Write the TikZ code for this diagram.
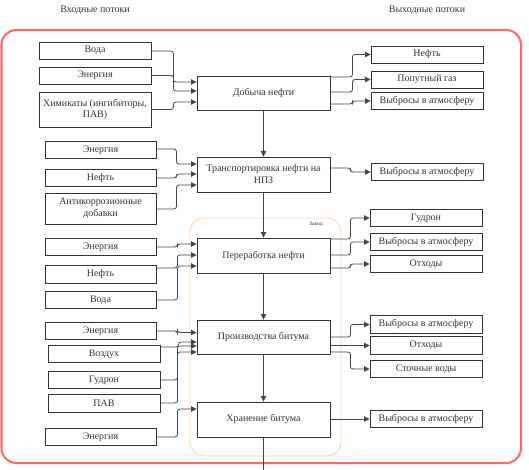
\documentclass[tikz,border=0pt]{standalone}
\usepackage{fontspec}
\setmainfont{Liberation Serif}
\newfontfamily\boxfont{Liberation Serif}
\usepackage{tikz}
\usetikzlibrary{arrows.meta,calc}

\definecolor{boxline}{HTML}{333333}
\definecolor{flowline}{HTML}{454545}
\definecolor{outerred}{HTML}{FF6666}
\definecolor{plantorange}{HTML}{FFD2AE}

\tikzset{
    proc/.style={draw=boxline, line width=0.9bp, minimum width=133bp, minimum height=35bp,
        inner sep=1bp, align=center, text=boxline, font=\boxfont\fontsize{10}{12}\selectfont},
    inbox/.style={draw=boxline, line width=0.9bp, minimum width=112bp, minimum height=17.5bp,
        inner sep=1bp, align=center, text=boxline, font=\boxfont\fontsize{10}{12}\selectfont},
    outbox/.style={inbox},
    flow/.style={draw=flowline, line width=0.8bp, rounded corners=2.5bp,
        -{Triangle[length=5.5bp,width=5.5bp]}},
    plain/.style={draw=flowline, line width=0.8bp},
    header/.style={text=boxline, font=\boxfont\fontsize{10}{11}\selectfont}
}

\begin{document}
\begin{tikzpicture}[x=1bp, y=-1bp]
        \useasboundingbox (0,0) rectangle (529,470);
        % Frames
        \draw[outerred, line width=2bp, rounded corners=15bp] (1.5,30) rectangle (521,463);
        \draw[plantorange, line width=0.9bp, rounded corners=14bp] (190,218) rectangle (341,456);
        \node[text=boxline, font=\boxfont\fontsize{5.5}{6}\selectfont] (zavod) at (316,224) {Завод};

        % Headers
        \node[header] (inhead) at (95,10) {Входные потоки};
        \node[header] (outhead) at (427,10) {Выходные потоки};

        % Main process chain
        \node[proc, minimum height=34bp] (dob) at (263.5,93) {Добыча нефти};
        \node[proc] (trans) at (263.5,174.5) {Транспортировка нефти на\\НПЗ};
        \node[proc] (pere) at (263.5,255.5) {Переработка нефти};
        \node[proc, minimum height=34bp] (proiz) at (263.5,337) {Производства битума};
        \node[proc] (hran) at (263.5,419.5) {Хранение битума};
        \coordinate (exit) at (263.5,472);

        \draw[flow] (dob) -- (trans);
        \draw[flow] (trans) -- (pere);
        \draw[flow] (pere) -- (proiz);
        \draw[flow] (proiz) -- (hran);
        \draw[plain] (hran) -- (exit);

        % Input flows
        \node[inbox, minimum height=17bp] (in11) at (95,50.5) {Вода};
        \node[inbox, minimum height=17bp] (in12) at (95,75.5) {Энергия};
        \node[inbox, minimum height=35bp] (in13) at (95,109.5) {Химикаты (ингибиторы,\\ПАВ)};

        \node[inbox, minimum width=111bp] (in21) at (100.5,150) {Энергия};
        \node[inbox, minimum width=111bp] (in22) at (100.5,178) {Нефть};
        \node[inbox, minimum width=111bp, minimum height=31bp] (in23) at (100.5,208.5) {Антикоррозионные\\добавки};

        \node[inbox, minimum width=111bp] (in31) at (100.5,247) {Энергия};
        \node[inbox, minimum width=111bp] (in32) at (100.5,274.5) {Нефть};
        \node[inbox, minimum width=111bp] (in33) at (100.5,300) {Вода};

        \node[inbox, minimum width=111bp] (in41) at (100.5,331) {Энергия};
        \node[inbox] (in42) at (104,354) {Воздух};
        \node[inbox] (in43) at (104,380) {Гудрон};
        \node[inbox] (in44) at (104,403.5) {ПАВ};
        \node[inbox, minimum width=111bp] (in51) at (100.5,437) {Энергия};

        \draw[flow] (in11.east |- 0,51) -- ++(22,0) |- (dob.west |- 0,82);
        \draw[flow] (in12.east) -- ++(22,0) |- (dob.west |- 0,91);
        \draw[flow] (in13.east) -- ++(22,0) |- (dob.west |- 0,102);

        \draw[flow] (in21.east |- 0,149) -- ++(20,0) |- (trans.west |- 0,164);
        \draw[flow] (in22.east) -- ++(20,0) |- (trans.west |- 0,174);
        \draw[flow] (in23.east |- 0,209) -- ++(20,0) |- (trans.west |- 0,185);

        \draw[flow] (in31.east) -- ++(21,0) |- (pere.west |- 0,244);
        \draw[flow] (in32.east |- 0,268) -- ++(21,0) |- (pere.west |- 0,255);
        \draw[flow] (in33.east) -- ++(21,0) |- (pere.west |- 0,266);

        \draw[flow] (in41.east) -- ++(21,0) |- (proiz.west |- 0,332.5);
        \draw[flow] (in42.east |- 0,347) -- ++(18,0) |- (proiz.west |- 0,342);
        \draw[flow] (in43.east) -- ++(17,0) |- (proiz.west |- 0,346);
        \draw[flow] (in44.east |- 0,403) -- ++(17,0) |- (proiz.west |- 0,352);

        \draw[flow] (in51.east) -- ++(21,0) |- (hran.west |- 0,409);

        % Output flows
        \node[outbox, minimum height=17bp] (out11) at (427,54.5) {Нефть};
        \node[outbox, minimum height=17bp] (out12) at (427,79.5) {Попутный газ};
        \node[outbox] (out13) at (427,101) {Выбросы в атмосферу};
        \node[outbox] (out21) at (427,172) {Выбросы в атмосферу};
        \node[outbox] (out31) at (426,218) {Гудрон};
        \node[outbox] (out32) at (426,242) {Выбросы в атмосферу};
        \node[outbox] (out33) at (426,264) {Отходы};
        \node[outbox] (out41) at (426,324.5) {Выбросы в атмосферу};
        \node[outbox] (out42) at (426,345.5) {Отходы};
        \node[outbox] (out43) at (426,369) {Сточные воды};
        \node[outbox] (out51) at (426,419) {Выбросы в атмосферу};

        \draw[flow] (dob.east |- 0,77) -- ++(22,0) |- (out11.west);
        \draw[flow] (dob.east |- 0,92) -- ++(22,0) |- (out12.west);
        \draw[flow] (dob.east |- 0,104) -- ++(22,0) |- (out13.west);

        \draw[flow] (trans.east |- 0,168) -- ++(20,0) |- (out21.west);

        \draw[flow] (pere.east |- 0,239) -- ++(20,0) |- (out31.west);
        \draw[flow] (pere.east |- 0,255) -- ++(20,0) |- (out32.west);
        \draw[flow] (pere.east |- 0,268) -- ++(20,0) |- (out33.west);

        \draw[flow] (proiz.east |- 0,337) -- ++(20,0) |- (out41.west);
        \draw[flow] (proiz.east |- 0,345.5) -- (out42.west);
        \draw[flow] (proiz.east |- 0,352) -- ++(20,0) |- (out43.west);

        \draw[flow] (hran.east |- 0,419) -- (out51.west);
\end{tikzpicture}
\end{document}
